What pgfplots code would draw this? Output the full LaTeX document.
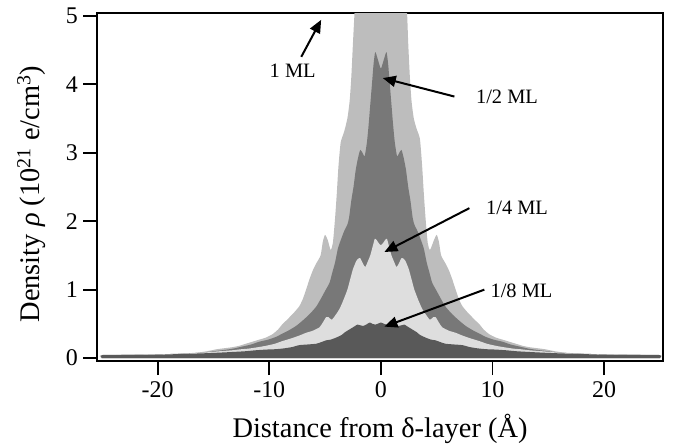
\documentclass[border=0pt]{standalone}
\usepackage{pgfplots}
\pgfplotsset{compat=1.18}
\usepackage{fontspec}
\setmainfont{Liberation Serif}
\usetikzlibrary{arrows.meta}

\definecolor{oneml}{gray}{0.74}
\definecolor{halfml}{gray}{0.47}
\definecolor{quartml}{gray}{0.87}
\definecolor{eighthml}{gray}{0.35}

\begin{document}
\begin{tikzpicture}
\begin{axis}[
  scale only axis, width=565bp, height=348bp,
  xmin=-25.4, xmax=25.25, ymin=-0.045, ymax=5.04,
  xtick={-20,-10,0,10,20}, ytick={0,1,2,3,4,5},
  xtick pos=bottom, ytick pos=left, tick align=outside,
  major tick length=14bp,
  axis line style={line width=1.8bp},
  tick style={line width=1.8bp, black},
  /pgf/number format/assume math mode=true,
  tick label style={font=\fontsize{24}{28}\selectfont},
  xticklabel style={yshift=-3bp},
  yticklabel style={xshift=-2bp},
  label style={font=\fontsize{28.5}{34}\selectfont},
  xlabel={Distance from δ-layer (Å)},
  ylabel={Density \textit{ρ} (10\textsuperscript{21} e/cm\textsuperscript{3})},
  xlabel style={at={(axis description cs:0.5,0)}, anchor=center, yshift=-68bp},
  ylabel style={at={(axis description cs:0,0.48)}, anchor=center, yshift=66bp},
  every axis plot/.append style={draw=none, smooth, tension=0.35},
]
% 1 ML
\addplot[fill=oneml] coordinates {
 (-25,0) (-25,0.045) (-22.5,0.05) (-20,0.055) (-18,0.065) (-16.5,0.08) (-15.6,0.10)
 (-14.7,0.13) (-14,0.145) (-13.3,0.16) (-12.7,0.18) (-12.1,0.21) (-11.5,0.24) (-10.9,0.27)
 (-10.3,0.30) (-9.7,0.35) (-9.2,0.42) (-8.8,0.50) (-8.4,0.56) (-8.0,0.63) (-7.7,0.68)
 (-7.3,0.76) (-7.0,0.86) (-6.7,1.00) (-6.4,1.15) (-6.1,1.28) (-5.8,1.38) (-5.4,1.50)
 (-5.2,1.70) (-5.0,1.80) (-4.75,1.72) (-4.5,1.58) (-4.3,1.68) (-4.1,2.05) (-3.95,2.40)
 (-3.8,2.80) (-3.6,3.15) (-3.3,3.30) (-3.0,3.50) (-2.8,3.75) (-2.65,4.10) (-2.5,4.60)
 (-2.3,5.20) (-1.8,6.20) (-1.0,7.20) (0,7.50)
 (1.0,7.20) (1.8,6.20) (2.3,5.20) (2.45,4.60) (2.6,4.10) (2.75,3.75) (2.95,3.50)
 (3.2,3.35) (3.5,3.20) (3.7,2.80) (3.85,2.40) (4.0,2.05) (4.2,1.68) (4.4,1.58)
 (4.75,1.72) (5.0,1.80) (5.2,1.70) (5.4,1.50) (5.8,1.38) (6.1,1.28) (6.4,1.15)
 (6.7,1.00) (7.0,0.86) (7.3,0.76) (7.7,0.68) (8.0,0.63) (8.4,0.56) (8.8,0.50)
 (9.2,0.42) (9.7,0.35) (10.3,0.30) (10.9,0.27) (11.5,0.24) (12.1,0.21) (12.7,0.18)
 (13.3,0.16) (14,0.145) (14.7,0.13) (15.6,0.10) (16.5,0.08) (18,0.065) (20,0.055)
 (22.5,0.05) (25,0.045) (25,0)} \closedcycle;
% 1/2 ML
\addplot[fill=halfml] coordinates {
 (-25,0) (-25,0.045) (-22.5,0.05) (-20,0.055) (-18,0.065) (-16,0.08) (-15,0.10)
 (-14,0.12) (-13.2,0.14) (-12.4,0.17) (-11.6,0.20) (-10.9,0.24) (-10.1,0.27) (-9.4,0.31)
 (-8.8,0.36) (-8.2,0.41) (-7.6,0.47) (-7.0,0.55) (-6.4,0.64) (-5.8,0.75) (-5.4,0.86)
 (-5.0,0.98) (-4.6,1.10) (-4.35,1.25) (-4.1,1.40) (-3.85,1.60) (-3.6,1.72) (-3.3,1.85)
 (-3.0,1.95) (-2.85,2.05) (-2.65,2.30) (-2.45,2.50) (-2.25,2.75) (-2.05,2.92) (-1.85,3.04)
 (-1.65,3.00) (-1.45,2.95) (-1.25,3.15) (-1.1,3.40) (-0.95,3.70) (-0.8,4.00) (-0.65,4.30)
 (-0.5,4.47) (-0.25,4.35) (0,4.23) (0.25,4.35) (0.5,4.47) (0.65,4.30) (0.8,4.00)
 (0.95,3.70) (1.1,3.40) (1.25,3.15) (1.45,2.95) (1.65,3.00) (1.85,3.04) (2.05,2.92)
 (2.25,2.75) (2.45,2.50) (2.65,2.30) (2.85,2.05) (3.0,1.95) (3.3,1.85) (3.6,1.72)
 (3.85,1.60) (4.1,1.40) (4.35,1.25) (4.6,1.10) (5.0,0.98) (5.4,0.86) (5.8,0.75)
 (6.4,0.64) (7.0,0.55) (7.6,0.47) (8.2,0.41) (8.8,0.36) (9.4,0.31) (10.1,0.27)
 (10.9,0.24) (11.6,0.20) (12.4,0.17) (13.2,0.14) (14,0.12) (15,0.10) (16,0.08)
 (18,0.065) (20,0.055) (22.5,0.05) (25,0.045) (25,0)} \closedcycle;
% 1/4 ML
\addplot[fill=quartml] coordinates {
 (-25,0) (-25,0.045) (-20,0.055) (-18,0.065) (-16,0.08) (-14.5,0.10) (-13.3,0.115)
 (-12.5,0.13) (-11.8,0.14) (-11.0,0.16) (-10.3,0.18) (-9.5,0.21) (-8.8,0.25) (-8.0,0.29)
 (-7.3,0.33) (-6.7,0.37) (-6.1,0.40) (-5.5,0.45) (-5.2,0.52) (-4.9,0.60) (-4.7,0.60)
 (-4.4,0.56) (-4.1,0.62) (-3.7,0.72) (-3.35,0.85) (-3.0,1.00) (-2.75,1.15) (-2.5,1.30)
 (-2.2,1.42) (-2.05,1.45) (-1.85,1.46) (-1.6,1.38) (-1.4,1.33) (-1.15,1.42) (-0.95,1.50)
 (-0.75,1.62) (-0.55,1.74) (-0.4,1.73) (-0.2,1.68) (0,1.65) (0.2,1.68) (0.4,1.73)
 (0.55,1.74) (0.75,1.62) (0.95,1.50) (1.15,1.42) (1.4,1.33) (1.6,1.38) (1.85,1.46)
 (2.05,1.45) (2.2,1.42) (2.5,1.30) (2.75,1.15) (3.0,1.00) (3.35,0.85) (3.7,0.72)
 (4.1,0.62) (4.4,0.56) (4.7,0.60) (4.9,0.60) (5.2,0.52) (5.5,0.45) (6.1,0.40)
 (6.7,0.37) (7.3,0.33) (8.0,0.29) (8.8,0.25) (9.5,0.21) (10.3,0.18) (11.0,0.16)
 (11.8,0.14) (12.5,0.13) (13.3,0.115) (14.5,0.10) (16,0.08) (18,0.065) (20,0.055)
 (25,0.045) (25,0)} \closedcycle;
% 1/8 ML
\addplot[fill=eighthml] coordinates {
 (-25,0) (-25,0.042) (-22.5,0.045) (-20,0.05) (-18,0.06) (-16,0.07) (-14.5,0.08)
 (-13.3,0.09) (-12.2,0.10) (-11.2,0.115) (-10.3,0.125) (-9.5,0.13) (-8.8,0.14) (-8.0,0.16)
 (-7.3,0.19) (-6.5,0.20) (-5.8,0.21) (-5.4,0.23) (-4.9,0.26) (-4.5,0.27) (-4.0,0.30)
 (-3.5,0.34) (-3.2,0.38) (-2.8,0.42) (-2.4,0.46) (-2.1,0.49) (-1.85,0.48) (-1.6,0.47)
 (-1.3,0.49) (-1.0,0.52) (-0.75,0.50) (-0.5,0.49) (-0.3,0.50) (0,0.52) (0.3,0.50)
 (0.5,0.49) (0.75,0.50) (1.0,0.52) (1.3,0.49) (1.6,0.47) (1.85,0.48) (2.1,0.49)
 (2.4,0.46) (2.8,0.42) (3.2,0.38) (3.5,0.34) (4.0,0.30) (4.5,0.27) (4.9,0.26)
 (5.4,0.23) (5.8,0.21) (6.5,0.20) (7.3,0.19) (8.0,0.16) (8.8,0.14) (9.5,0.13)
 (10.3,0.125) (11.2,0.115) (12.2,0.10) (13.3,0.09) (14.5,0.08) (16,0.07) (18,0.06)
 (20,0.05) (22.5,0.045) (25,0.042) (25,0)} \closedcycle;

\begin{scope}[font=\fontsize{20.5}{24}\selectfont]
\node at (axis cs:-7.9,4.19) {1 ML};
\node at (axis cs:11.3,3.81) {1/2 ML};
\node at (axis cs:12.2,2.19) {1/4 ML};
\node at (axis cs:12.6,0.99) {1/8 ML};
\end{scope}
\begin{scope}[line width=2bp, -{Triangle[length=13bp,width=11bp]}]
\draw (axis cs:-7.13,4.40) -- (axis cs:-5.35,4.94);
\draw (axis cs:6.59,3.82) -- (axis cs:0.17,4.09);
\draw (axis cs:7.93,2.19) -- (axis cs:0.32,1.55);
\draw (axis cs:9.27,1.00) -- (axis cs:0.32,0.46);
\end{scope}
\end{axis}
\pgfresetboundingbox
\path[use as bounding box] ([shift={(-97.3bp,-84bp)}]current axis.south west)
  rectangle ([shift={(16.3bp,13bp)}]current axis.north east);
\end{tikzpicture}
\end{document}
